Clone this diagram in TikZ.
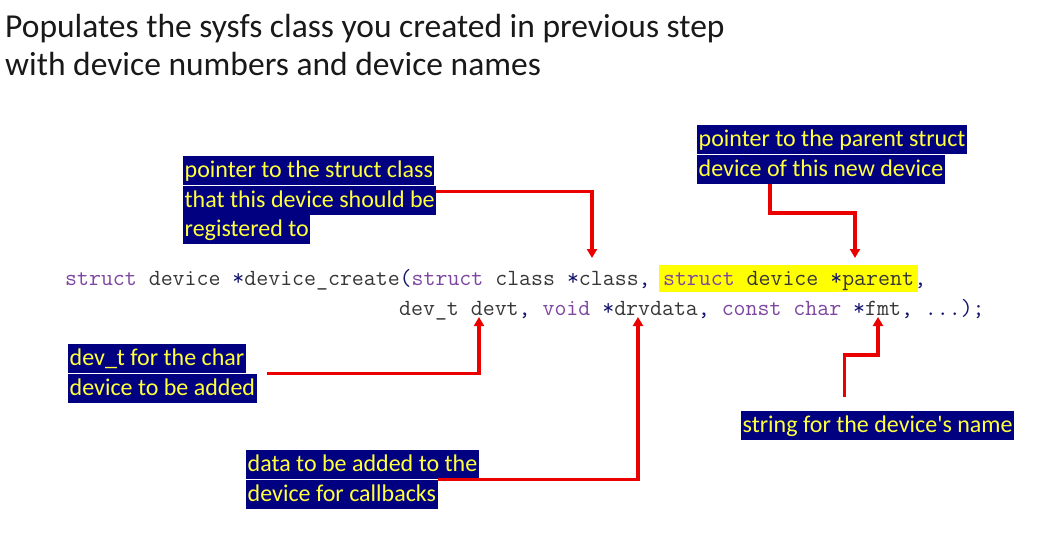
\documentclass[tikz,border=0pt]{standalone}
\usepackage{fontspec}
\setmainfont{Carlito}
\usetikzlibrary{positioning,arrows.meta}
\definecolor{notebg}{RGB}{0,0,128}
\definecolor{notefg}{RGB}{255,255,60}
\definecolor{kwpurple}{RGB}{125,70,160}
\definecolor{punctnavy}{RGB}{20,20,110}
\definecolor{codegray}{RGB}{55,55,55}
\definecolor{hiyellow}{RGB}{255,255,0}
\definecolor{arrowred}{RGB}{235,0,0}
\newcommand{\kw}[1]{\textcolor{kwpurple}{#1}}
\newcommand{\pn}[1]{\textcolor{punctnavy}{#1}}
\tikzset{
  code/.style={font=\ttfamily\fontsize{23.2}{30}\selectfont, text=codegray, inner sep=0pt, anchor=base west},
  hilite/.style={fill=hiyellow, inner xsep=4pt, inner ysep=0pt, text height=20pt, text depth=7pt},
  note/.style={fill=notebg, text=notefg, font=\fontsize{24}{29}\selectfont, inner xsep=1.5pt, inner ysep=0pt,
    text height=21.5pt, text depth=7.5pt, anchor=north west},
  link/.style={draw=arrowred, line width=3.4pt, -{Triangle[length=9pt,width=10pt]}},
  title/.style={font=\fontsize{33.5}{38}\selectfont, text=black!90, inner sep=0pt, anchor=base west}
}
\begin{document}
\begin{tikzpicture}[x=1pt,y=-1pt]
  \useasboundingbox (0,0) rectangle (1039,555);

  % heading
  \node [title] (title1) at (5,37) {Populates the sysfs class you created in previous step};
  \node [title] (title2) at (5,75) {with device numbers and device names};

  % prototype
  \node [code] (sig) at (65,285) {\kw{struct} device \pn{*}device\_create\pn{(}\kw{struct} class \pn{*}class\pn{,}};
  \node [code, hilite] (par) at ([xshift=8pt]sig.base east) {\kw{struct} device \pn{*}parent};
  \node [code] (comma) at ([xshift=-4pt]par.base east) {\pn{,}};
  \node [code] (args) at (399,315) {dev\_t devt\pn{,} \kw{void} \pn{*}drvdata\pn{,} \kw{const} \kw{char} \pn{*}fmt\pn{,} \pn{...);}};

  % arrow tips
  \coordinate (clsTip) at (592,258);
  \coordinate (parTip) at (855,258);
  \coordinate (devtTip) at (479,317);
  \coordinate (drvTip) at (638,317);
  \coordinate (fmtTip) at (878,317);

  % class note
  \node [note] (cls1) at (183,156) {pointer to the struct class};
  \node [note] (cls2) at (cls1.south west) {that this device should be};
  \node [note] (cls3) at (cls2.south west) {registered to};

  % parent note
  \node [note] (dev1) at (697,125) {pointer to the parent struct};
  \node [note] (dev2) at (dev1.south west) {device of this new device};

  % devt note
  \node [note] (chr1) at (68,344) {dev\_t for the char};
  \node [note] (chr2) at (chr1.south west) {device to be added};

  % drvdata note
  \node [note] (dat1) at (246,450) {data to be added to the};
  \node [note] (dat2) at (dat1.south west) {device for callbacks};

  % fmt note
  \node [note] (fmt) at (741,411) {string for the device\textquotesingle s name};

  % connectors
  \draw [link] ([yshift=-6pt]cls2.north east) -| (clsTip);
  \draw [link] ([xshift=73pt]dev2.south west) -- ++(0,29) -| (parTip);
  \draw [link] ([xshift=10pt]chr2.north east) -| (devtTip);
  \draw [link] (dat2.north east) -| (drvTip);
  \draw [link] ([xshift=-33pt,yshift=14pt]fmt.north) -- ++(0,-42) -| (fmtTip);
\end{tikzpicture}
\end{document}
